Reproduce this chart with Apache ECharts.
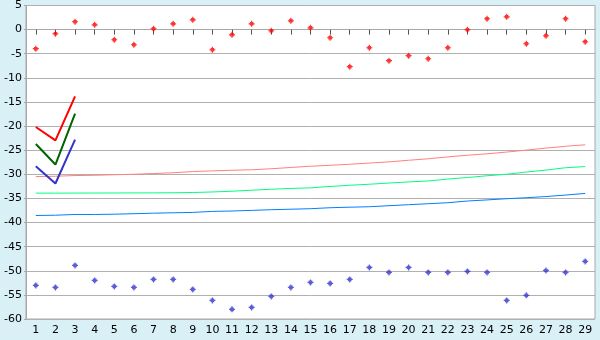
<!DOCTYPE html>
<html>
<head>
<meta charset="utf-8">
<script src="https://cdn.jsdelivr.net/npm/echarts@6/dist/echarts.min.js"></script>
<style>
html,body{margin:0;padding:0;background:#D9F0F7;}
#c{width:600px;height:340px;}
</style>
</head>
<body>
<div id="c"></div>
<script>
var categories = ['1','2','3','4','5','6','7','8','9','10','11','12','13','14','15','16','17','18','19','20','21','22','23','24','25','26','27','28','29'];

var redPoints = [-3.96,-0.86,1.63,1.0,-2.10,-3.14,0.18,1.21,2.04,-4.17,-1.07,1.21,-0.24,1.83,0.38,-1.69,-7.69,-3.76,-6.45,-5.41,-6.04,-3.76,-0.03,2.25,2.66,-2.93,-1.27,2.25,-2.52];
var bluePoints = [-53.03,-53.45,-48.89,-52.0,-53.24,-53.45,-51.79,-51.79,-53.86,-56.14,-58.0,-57.59,-55.31,-53.45,-52.41,-52.62,-51.79,-49.31,-50.34,-49.31,-50.34,-50.34,-50.13,-50.34,-56.14,-55.10,-49.93,-50.34,-48.06];

var redV = [-20.2,-22.95,-13.84];
var greenV = [-23.72,-27.98,-17.42];
var blueV = [-28.33,-31.91,-22.8];

var pinkCurve = [-30.47,-30.40,-30.26,-30.20,-30.09,-29.99,-29.84,-29.68,-29.43,-29.29,-29.16,-29.06,-28.85,-28.58,-28.33,-28.13,-27.92,-27.67,-27.42,-27.09,-26.78,-26.39,-26.04,-25.75,-25.39,-24.98,-24.57,-24.19,-23.88];
var greenCurve = [-33.90,-33.90,-33.89,-33.88,-33.87,-33.86,-33.85,-33.83,-33.77,-33.66,-33.51,-33.30,-33.10,-32.93,-32.81,-32.52,-32.27,-32.06,-31.81,-31.58,-31.38,-30.98,-30.67,-30.30,-29.99,-29.53,-29.12,-28.64,-28.40];
var blueCurve = [-38.54,-38.48,-38.33,-38.33,-38.27,-38.17,-38.06,-37.98,-37.90,-37.69,-37.61,-37.48,-37.34,-37.24,-37.13,-36.93,-36.82,-36.72,-36.51,-36.30,-36.10,-35.89,-35.54,-35.31,-35.06,-34.86,-34.61,-34.30,-33.96];

var yMin = -60, yMax = 5, yStep = 5;

var chart = echarts.init(document.getElementById('c'), null, {renderer:'canvas'});
var font = 'DejaVu Sans';
function lineSeries(data, color, width){
  return {type:'line', data:data, symbol:'none', smooth:false, animation:false,
    lineStyle:{color:color, width:width}, itemStyle:{color:color}};
}
var markerPath = 'path://M2,0H3V1H4V2H5V3H4V4H3V5H2V4H1V3H0V2H1V1H2Z';
chart.setOption({
  backgroundColor:'#D9F0F7',
  animation:false,
  grid:{left:26, right:5, top:5, bottom:21, show:true, backgroundColor:'#FFFFFF', borderColor:'#A8A8A8', borderWidth:1},
  xAxis:{type:'category', data:categories, boundaryGap:true,
    axisLine:{show:true, lineStyle:{color:'#A8A8A8'}},
    axisTick:{show:true, alignWithLabel:true, length:5, lineStyle:{color:'#555555'}},
    axisLabel:{color:'#000', fontFamily:font, fontSize:11, margin:6, interval:0},
    splitLine:{show:false}},
  yAxis:{type:'value', min:yMin, max:yMax, interval:yStep,
    axisLine:{show:true, lineStyle:{color:'#A8A8A8'}},
    axisTick:{show:true, length:2, lineStyle:{color:'#A8A8A8'}},
    axisLabel:{color:'#000', fontFamily:font, fontSize:11, margin:4},
    splitLine:{show:true, lineStyle:{color:'#B0B0B0', width:1}}},
  series:[
    lineSeries(pinkCurve, '#FF8080', 1),
    lineSeries(greenCurve, '#00FF80', 1),
    lineSeries(blueCurve, '#0080FF', 1),
    lineSeries(redV, '#FF0000', 2),
    lineSeries(greenV, '#006400', 2),
    lineSeries(blueV, '#3333CC', 2),
    {type:'scatter', data:redPoints, symbol:markerPath, symbolSize:6, itemStyle:{color:'#FF0000'}, animation:false},
    {type:'scatter', data:bluePoints, symbol:markerPath, symbolSize:6, itemStyle:{color:'#3333CC'}, animation:false}
  ]
});
</script>
</body>
</html>
